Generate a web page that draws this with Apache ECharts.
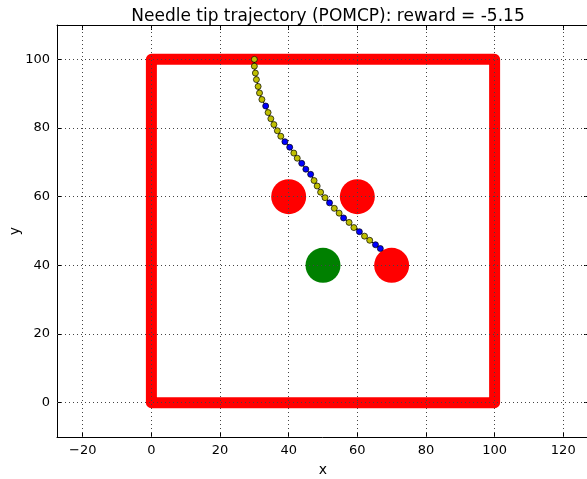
<!DOCTYPE html>
<html>
<head>
<meta charset="utf-8">
<script src="https://cdn.jsdelivr.net/npm/echarts@6/dist/echarts.min.js"></script>
<style>html,body{margin:0;padding:0;background:#fff;}#c{width:587px;height:479px;}</style>
</head>
<body>
<div id="c"></div>
<script>
// ---- data ----
const titleText = 'Needle tip trajectory (POMCP): reward = -5.15';
const xTicks = [-20, 0, 20, 40, 60, 80, 100, 120];
const yTicks = [0, 20, 40, 60, 80, 100];
const xRange = [-27.5, 127.5];
const yRange = [-10, 110];

const wallX = [0, 100, 100, 0, 0];
const wallY = [0, 0, 100, 100, 0];

const obstacleX = [40, 60, 70];
const obstacleY = [60, 60, 40];

const targetX = [50];
const targetY = [40];

const trajX = [30.0, 30.0, 30.3, 30.6, 31.1, 31.5, 32.2, 33.3, 34.0, 34.8, 35.7, 36.7, 37.7, 38.9, 40.3, 41.5, 42.5, 43.8, 45.0, 46.4, 47.4, 48.3, 49.3, 50.6, 51.9, 53.3, 54.7, 56.0, 57.6, 59.0, 60.6, 62.1, 63.6, 65.3, 66.7];
const trajY = [100.0, 98.0, 96.0, 94.1, 92.1, 90.2, 88.3, 86.4, 84.5, 82.7, 81.0, 79.2, 77.6, 76.0, 74.4, 72.7, 71.2, 69.7, 68.0, 66.5, 64.7, 63.1, 61.3, 59.7, 58.2, 56.6, 55.2, 53.8, 52.5, 51.0, 49.8, 48.5, 47.3, 46.0, 44.9];
const trajKind = ['y','y','y','y','y','y','y','b','y','y','y','y','y','b','b','y','y','b','b','b','y','y','y','y','b','y','y','b','y','y','b','y','y','b','b'];

// ---- styling ----
const kindColor = { y: '#bfbf00', b: '#0000ff' };
const FONT = 'DejaVu Sans';
const minusFmt = v => String(v).replace('-', '\u2212');

const zip = (a, b) => a.map((v, i) => [v, b[i]]);

const chart = echarts.init(document.getElementById('c'), null, { renderer: 'canvas' });

const gridLines = [];
xTicks.forEach(v => gridLines.push({ xAxis: v }));
yTicks.forEach(v => gridLines.push({ yAxis: v }));

const baseAxisLine = { show: true, onZero: false, lineStyle: { color: '#000', width: 1 } };
const tickStyle = { color: '#000', width: 1 };

chart.setOption({
  animation: false,
  backgroundColor: '#fff',
  title: {
    text: titleText,
    left: 323,
    textAlign: 'center',
    top: 3,
    textStyle: { fontFamily: FONT, fontSize: 17, fontWeight: 'normal', color: '#000' }
  },
  grid: { left: 57, top: 25, width: 532, height: 412, containLabel: false, outerBoundsMode: 'none' },
  xAxis: [
    {
      type: 'value', min: xRange[0], max: xRange[1], position: 'bottom',
      name: 'x', nameLocation: 'middle', nameGap: 26,
      nameTextStyle: { fontFamily: FONT, fontSize: 14, color: '#000' },
      axisLine: baseAxisLine,
      axisTick: { show: true, inside: true, length: 5, customValues: xTicks, lineStyle: tickStyle },
      axisLabel: { customValues: xTicks, formatter: minusFmt, fontFamily: FONT, fontSize: 13, color: '#000', margin: 7 },
      splitLine: { show: false }
    },
    {
      type: 'value', min: xRange[0], max: xRange[1], position: 'top',
      axisLine: baseAxisLine,
      axisTick: { show: true, inside: true, length: 5, customValues: xTicks, lineStyle: tickStyle },
      axisLabel: { show: false },
      splitLine: { show: false }
    }
  ],
  yAxis: [
    {
      type: 'value', min: yRange[0], max: yRange[1], position: 'left',
      name: 'y', nameLocation: 'middle', nameGap: 35, nameRotate: 90, nameMoveOverlap: false,
      nameTextStyle: { fontFamily: FONT, fontSize: 14, color: '#000' },
      axisLine: baseAxisLine,
      axisTick: { show: true, inside: true, length: 5, customValues: yTicks, lineStyle: tickStyle },
      axisLabel: { customValues: yTicks, formatter: minusFmt, fontFamily: FONT, fontSize: 13, color: '#000', margin: 7 },
      splitLine: { show: false }
    },
    {
      type: 'value', min: yRange[0], max: yRange[1], position: 'right',
      axisLine: baseAxisLine,
      axisTick: { show: true, inside: true, length: 5, customValues: yTicks, lineStyle: tickStyle },
      axisLabel: { show: false },
      splitLine: { show: false }
    }
  ],
  series: [
    {
      type: 'line', name: 'walls', z: 2,
      data: zip(wallX, wallY),
      showSymbol: false, symbol: 'none',
      lineStyle: { color: '#ff0000', width: 11, cap: 'round', join: 'round' },
      silent: true
    },
    {
      type: 'scatter', name: 'obstacles', z: 3,
      data: zip(obstacleX, obstacleY),
      symbolSize: 35,
      itemStyle: { color: '#ff0000', opacity: 1 },
      silent: true
    },
    {
      type: 'scatter', name: 'target', z: 3,
      data: zip(targetX, targetY),
      symbolSize: 35,
      itemStyle: { color: '#008000', opacity: 1 },
      silent: true
    },
    {
      type: 'line', name: 'trajectory', z: 4,
      data: zip(trajX, trajY),
      showSymbol: false, symbol: 'none',
      lineStyle: { color: '#000', width: 1 },
      silent: true
    },
    {
      type: 'scatter', name: 'points', z: 5,
      data: trajX.map((x, i) => ({ value: [x, trajY[i]], itemStyle: { color: kindColor[trajKind[i]] } })),
      symbolSize: 6,
      itemStyle: { borderColor: '#000', borderWidth: 0.7, opacity: 1 },
      silent: true
    },
    {
      type: 'line', name: 'grid', z: 10,
      data: [[0, 0]], showSymbol: false, symbol: 'none',
      lineStyle: { width: 0 },
      silent: true,
      markLine: {
        silent: true, symbol: 'none', animation: false,
        label: { show: false },
        lineStyle: { color: '#444', width: 1, type: [1, 3], opacity: 1 },
        emphasis: { disabled: true },
        data: gridLines
      }
    }
  ]
});
</script>
</body>
</html>
